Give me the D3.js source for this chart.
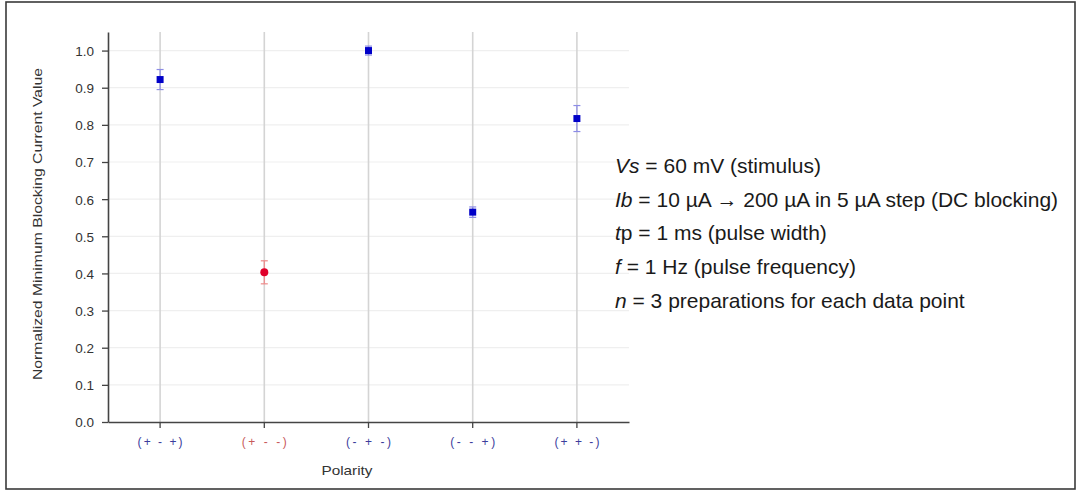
<!DOCTYPE html>
<html>
<head>
<meta charset="utf-8">
<script src="https://cdn.jsdelivr.net/npm/d3@7/dist/d3.min.js"></script>
<style>
  html, body { margin: 0; padding: 0; background: #fff; }
  svg { display: block; }
  text { font-family: "Liberation Sans", Arial, sans-serif; }
</style>
</head>
<body>
<svg id="chart" width="1081" height="493"></svg>
<script>
// ---- data ----
const categories = ["(+ - +)", "(+ - -)", "(- + -)", "(- - +)", "(+ + -)"];
const values = [0.922, 0.403, 1.0, 0.565, 0.817];
const errors = [0.027, 0.031, 0.012, 0.014, 0.035];
const markerShapes = ["square", "circle", "square", "square", "square"];
const markerColors = ["#0000c8", "#e0002a", "#0000c8", "#0000c8", "#0000c8"];
const whiskerColors = ["#8c8ce6", "#ee8a8a", "#8c8ce6", "#8c8ce6", "#8c8ce6"];
const labelColors = ["#3c3c9c", "#c85a5a", "#3c3c9c", "#3c3c9c", "#3c3c9c"];
const yTicks = [0.0, 0.1, 0.2, 0.3, 0.4, 0.5, 0.6, 0.7, 0.8, 0.9, 1.0];
const yLabel = "Normalized Minimum Blocking Current Value";
const xLabel = "Polarity";
const notes = [
  [{t: "Vs", i: true}, {t: " = 60 mV (stimulus)"}],
  [{t: "Ib", i: true}, {t: " = 10 \u00b5A \u2192 200 \u00b5A in 5 \u00b5A step (DC blocking)"}],
  [{t: "t", i: true}, {t: "p = 1 ms (pulse width)"}],
  [{t: "f", i: true}, {t: " = 1 Hz (pulse frequency)"}],
  [{t: "n", i: true}, {t: " = 3 preparations for each data point"}]
];

// ---- layout ----
const svg = d3.select("#chart");
const pLeft = 108, pRight = 629, pTop = 32, pBottom = 422;

svg.append("rect").attr("x", 6).attr("y", 2).attr("width", 1069).attr("height", 487)
  .attr("fill", "#fff").attr("stroke", "#3a3a3a").attr("stroke-width", 1.6);

const x = d3.scaleBand().domain(categories).range([pLeft, pRight]).padding(0);
const y = d3.scaleLinear().domain([0, 1.05]).range([pBottom, pTop]);
const cx = c => x(c) + x.bandwidth() / 2;

// horizontal faint grid
svg.append("g").selectAll("line").data(yTicks.slice(1)).join("line")
  .attr("x1", pLeft + 1).attr("x2", pRight)
  .attr("y1", d => y(d)).attr("y2", d => y(d))
  .attr("stroke", "#efefef").attr("stroke-width", 1.2);

// vertical grid
svg.append("g").selectAll("line").data(categories).join("line")
  .attr("x1", cx).attr("x2", cx)
  .attr("y1", pTop).attr("y2", pBottom)
  .attr("stroke", "#d4d4d4").attr("stroke-width", 1.6);

// y axis
const yAxis = svg.append("g").attr("transform", `translate(${pLeft},0)`)
  .call(d3.axisLeft(y).tickValues(yTicks).tickFormat(d3.format(".1f")).tickSize(6).tickSizeOuter(0).tickPadding(5));
yAxis.attr("font-family", null);
yAxis.select(".domain").attr("stroke", "#444").attr("stroke-width", 1.6);
yAxis.selectAll(".tick line").attr("stroke", "#444").attr("stroke-width", 1.3);
yAxis.selectAll(".tick text").attr("font-size", 13.5).attr("fill", "#333")
  .attr("x", -14).attr("dy", "0.36em");

// x axis
const xAxis = svg.append("g").attr("transform", `translate(0,${pBottom})`)
  .call(d3.axisBottom(x).tickSize(6).tickSizeOuter(0).tickPadding(0));
xAxis.attr("font-family", null);
xAxis.select(".domain").attr("stroke", "#444").attr("stroke-width", 1.6);
xAxis.selectAll(".tick line").attr("stroke", "#444").attr("stroke-width", 1.3);
xAxis.selectAll(".tick text")
  .attr("y", 24).attr("dy", null)
  .attr("font-size", 12)
  .attr("fill", (d, i) => labelColors[i])
  .attr("textLength", 45).attr("lengthAdjust", "spacing");

// axis titles
svg.append("text").attr("transform", `translate(42,${(68 + 380) / 2}) rotate(-90)`)
  .attr("text-anchor", "middle").attr("font-size", 12.5).attr("fill", "#333")
  .attr("textLength", 312).attr("lengthAdjust", "spacingAndGlyphs")
  .text(yLabel);
svg.append("text").attr("x", 347).attr("y", 475).attr("text-anchor", "middle")
  .attr("font-size", 13.5).attr("fill", "#333")
  .attr("textLength", 51).attr("lengthAdjust", "spacingAndGlyphs")
  .text(xLabel);

// error bars
const eb = svg.append("g");
categories.forEach((c, i) => {
  const g = eb.append("g").attr("stroke", whiskerColors[i]).attr("stroke-width", 1.2);
  g.append("line").attr("x1", cx(c)).attr("x2", cx(c))
    .attr("y1", y(values[i] + errors[i])).attr("y2", y(values[i] - errors[i]));
  [values[i] + errors[i], values[i] - errors[i]].forEach(v => {
    g.append("line").attr("x1", cx(c) - 3.5).attr("x2", cx(c) + 3.5)
      .attr("y1", y(v)).attr("y2", y(v));
  });
});

// markers
const sym = {square: d3.symbolSquare, circle: d3.symbolCircle};
svg.append("g").selectAll("path").data(categories).join("path")
  .attr("transform", (c, i) => `translate(${cx(c)},${y(values[i])})`)
  .attr("d", (c, i) => d3.symbol().type(sym[markerShapes[i]]).size(markerShapes[i] === "circle" ? 50 : 49)())
  .attr("fill", (c, i) => markerColors[i]);

// notes
const nt = svg.append("g").attr("font-size", 21).attr("fill", "#1a1a1a");
notes.forEach((parts, k) => {
  const t = nt.append("text").attr("x", 615).attr("y", 173 + k * 33.7);
  parts.forEach(p => t.append("tspan").attr("font-style", p.i ? "italic" : "normal").text(p.t));
});
</script>
</body>
</html>
